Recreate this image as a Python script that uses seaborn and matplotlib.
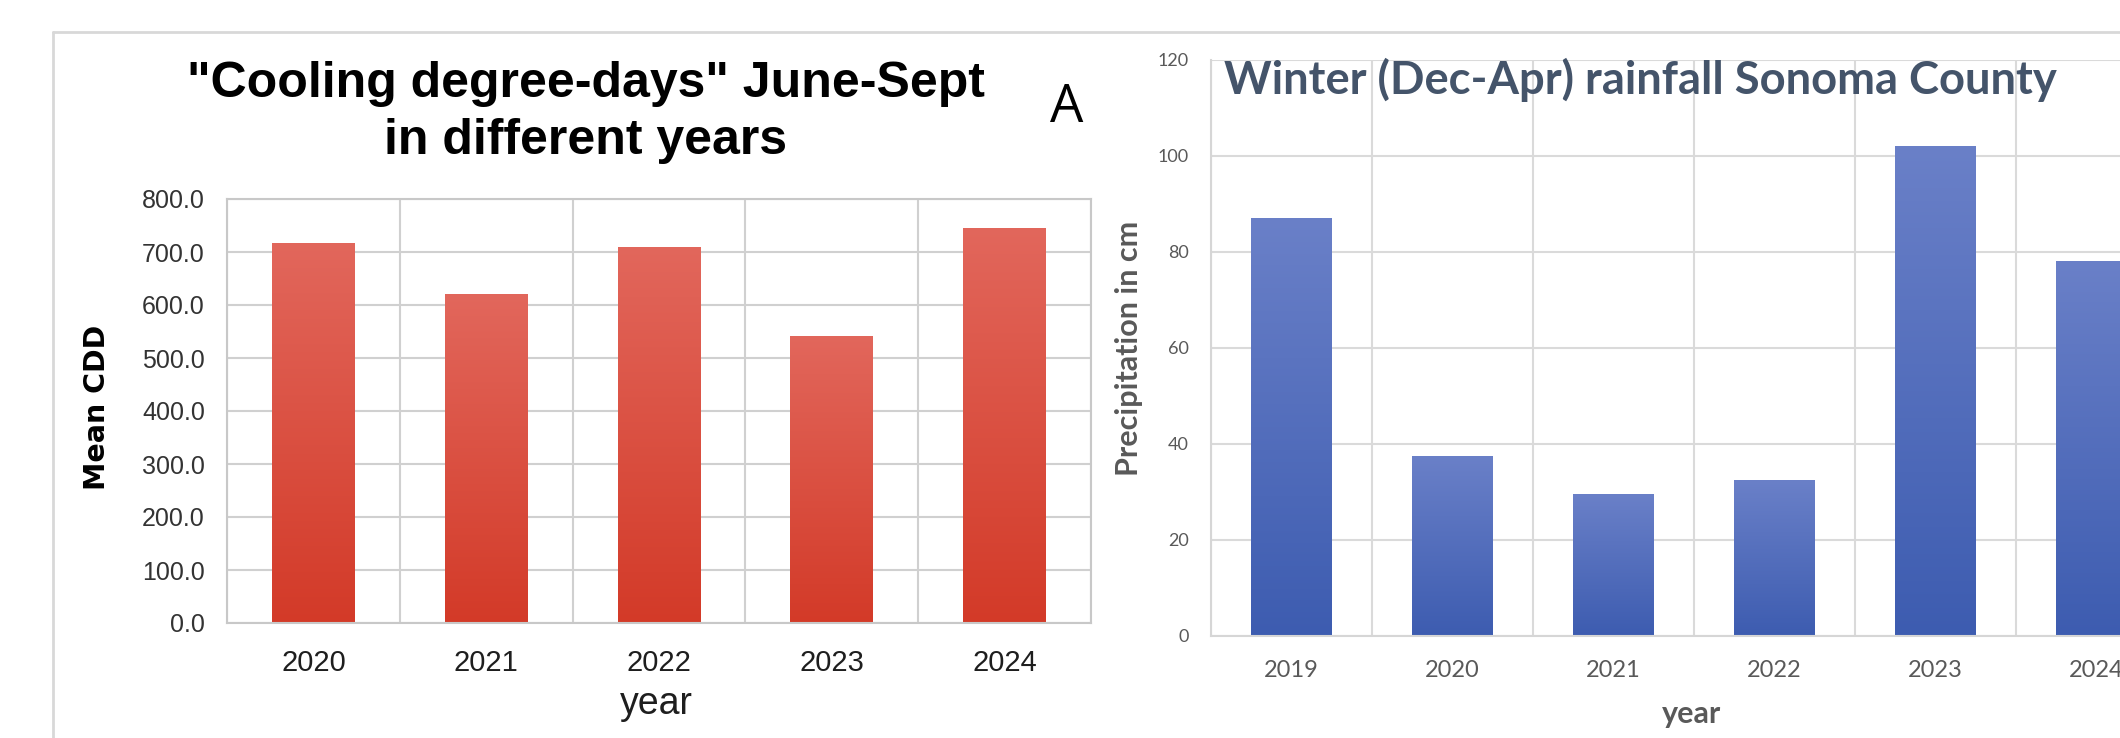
import numpy as np
import matplotlib
matplotlib.use("Agg")
import matplotlib.pyplot as plt
import seaborn as sns
from matplotlib.colors import LinearSegmentedColormap
from matplotlib.lines import Line2D
from matplotlib.ticker import FuncFormatter, MultipleLocator, FixedLocator

# Cooling degree-days, June-September
cdd_years = ["2020", "2021", "2022", "2023", "2024"]
cdd_values = [717, 620, 710, 542, 746]

# Winter (Dec-Apr) rainfall, Sonoma County, cm
rain_years = ["2019", "2020", "2021", "2022", "2023", "2024"]
rain_values = [87.0, 37.5, 29.5, 32.5, 102.0, 78.2]

W, H = 2120, 738
DPI = 100

sns.set_theme(style="white")
plt.rcParams["font.family"] = ["Liberation Sans", "DejaVu Sans"]

fig = plt.figure(figsize=(W / DPI, H / DPI), dpi=DPI)
fig.patch.set_facecolor("white")


def fx(px):
    return px / W


def fy(py):
    return 1 - py / H


def gradient_bars(ax, top_color, bottom_color):
    """Overlay a vertical colour gradient on every bar of the axes."""
    cmap = LinearSegmentedColormap.from_list("bar_grad", [bottom_color, top_color])
    grad = np.linspace(1, 0, 256).reshape(-1, 1)
    xlim, ylim = ax.get_xlim(), ax.get_ylim()
    for bar in list(ax.patches):
        x, y = bar.get_x(), bar.get_y()
        w, h = bar.get_width(), bar.get_height()
        im = ax.imshow(grad, extent=[x, x + w, y, y + h], origin="upper",
                       aspect="auto", cmap=cmap, vmin=0, vmax=1,
                       zorder=bar.get_zorder() + 0.1, interpolation="bicubic")
        im.set_clip_path(bar)
    ax.set_xlim(xlim)
    ax.set_ylim(ylim)


# ---------------- left panel: cooling degree-days ----------------
ax1 = fig.add_axes([fx(227), fy(623), (1091 - 227) / W, (623 - 199) / H])
sns.barplot(x=cdd_years, y=cdd_values, ax=ax1, color="#D94A38",
            width=0.48, saturation=1, linewidth=0)
ax1.set_xlim(-0.5, len(cdd_years) - 0.5)
ax1.set_ylim(0, 800)
ax1.yaxis.set_major_locator(MultipleLocator(100))
ax1.yaxis.set_major_formatter(FuncFormatter(lambda v, p: f"{v:.1f}"))
ax1.xaxis.set_minor_locator(FixedLocator(np.arange(-0.5, len(cdd_years), 1)))
ax1.set_axisbelow(True)
ax1.grid(True, axis="y", which="major", color="#D0D0D0", lw=1.5)
ax1.grid(True, axis="x", which="minor", color="#D0D0D0", lw=1.5)
for s in ax1.spines.values():
    s.set_color("#C8C8C8")
    s.set_linewidth(1.5)
ax1.tick_params(axis="y", labelsize=18, labelcolor="#333333", length=0, pad=16)
ax1.tick_params(axis="x", which="major", labelsize=21, labelcolor="#1E1E1E",
                length=0, pad=19)
ax1.tick_params(axis="x", which="minor", length=0)
gradient_bars(ax1, "#E2675C", "#D33A28")

ax1.set_xlabel("year", fontsize=27, color="#1E1E1E")
ax1.xaxis.label.set_va("baseline")
ax1.xaxis.set_label_coords((656 - 227) / 864, (623 - 714) / 424)
ax1.set_ylabel("Mean CDD", fontsize=20.5, fontweight="bold", color="black",
               family=["DejaVu Sans"])
ax1.yaxis.label.set_va("center")
ax1.yaxis.label.set_ha("center")
ax1.yaxis.set_label_coords((97 - 227) / 864, (623 - 407) / 424)

fig.text(fx(586), fy(97), "\"Cooling degree-days\" June-Sept", ha="center",
         va="baseline", fontsize=36, fontweight="bold", color="black")
fig.text(fx(586), fy(154), "in different years", ha="center",
         va="baseline", fontsize=36, fontweight="bold", color="black")

fig.text(fx(1050), fy(122), "A", ha="left", va="baseline", fontsize=38,
         color="black", family=["Open Sans", "DejaVu Sans"])

# ---------------- right panel: winter rainfall ----------------
ax2 = fig.add_axes([fx(1211), fy(636), 966 / W, (636 - 60) / H])
sns.barplot(x=rain_years, y=rain_values, ax=ax2, color="#4A6BC2",
            width=0.5, saturation=1, linewidth=0)
ax2.set_xlim(-0.5, len(rain_years) - 0.5)
ax2.set_ylim(0, 120)
ax2.yaxis.set_major_locator(MultipleLocator(20))
ax2.xaxis.set_minor_locator(FixedLocator(np.arange(-0.5, len(rain_years), 1)))
ax2.set_axisbelow(True)
ax2.grid(True, axis="y", which="major", color="#DADADA", lw=1.5)
ax2.grid(True, axis="x", which="minor", color="#DADADA", lw=1.5)
for name, s in ax2.spines.items():
    s.set_visible(name in ("bottom", "left"))
    s.set_color("#D6D6D6")
    s.set_linewidth(1.5)
ax2.tick_params(axis="y", labelsize=13, labelcolor="#595959", length=0, pad=16)
ax2.tick_params(axis="x", which="major", labelsize=17, labelcolor="#595959",
                length=0, pad=17)
ax2.tick_params(axis="x", which="minor", length=0)
for lab in ax2.get_xticklabels() + ax2.get_yticklabels():
    lab.set_family(["Lato", "DejaVu Sans"])
gradient_bars(ax2, "#6A80C8", "#3D5CB0")

ax2.set_xlabel("year", fontsize=22, fontweight="bold", color="#595959",
               family=["Lato", "DejaVu Sans"])
ax2.xaxis.label.set_va("baseline")
ax2.xaxis.set_label_coords((1692 - 1211) / 966, (636 - 723) / 576)
ax2.set_ylabel("Precipitation in cm", fontsize=22, fontweight="bold",
               color="#595959", family=["Lato", "DejaVu Sans"])
ax2.yaxis.label.set_va("center")
ax2.yaxis.label.set_ha("center")
ax2.yaxis.set_label_coords((1129 - 1211) / 966, 0.5)

fig.text(fx(1224), fy(94), "Winter (Dec-Apr) rainfall Sonoma County",
         ha="left", va="baseline", fontsize=32.7, fontweight="bold",
         color="#44546A", family=["Lato", "DejaVu Sans"])

# panel frame lines
fig.add_artist(Line2D([fx(53), 1], [fy(32), fy(32)], color="#D8D8D8", lw=2,
                      transform=fig.transFigure))
fig.add_artist(Line2D([fx(53), fx(53)], [fy(32), 0], color="#D8D8D8", lw=2,
                      transform=fig.transFigure))

fig.savefig("out.png", dpi=DPI, facecolor="white")
